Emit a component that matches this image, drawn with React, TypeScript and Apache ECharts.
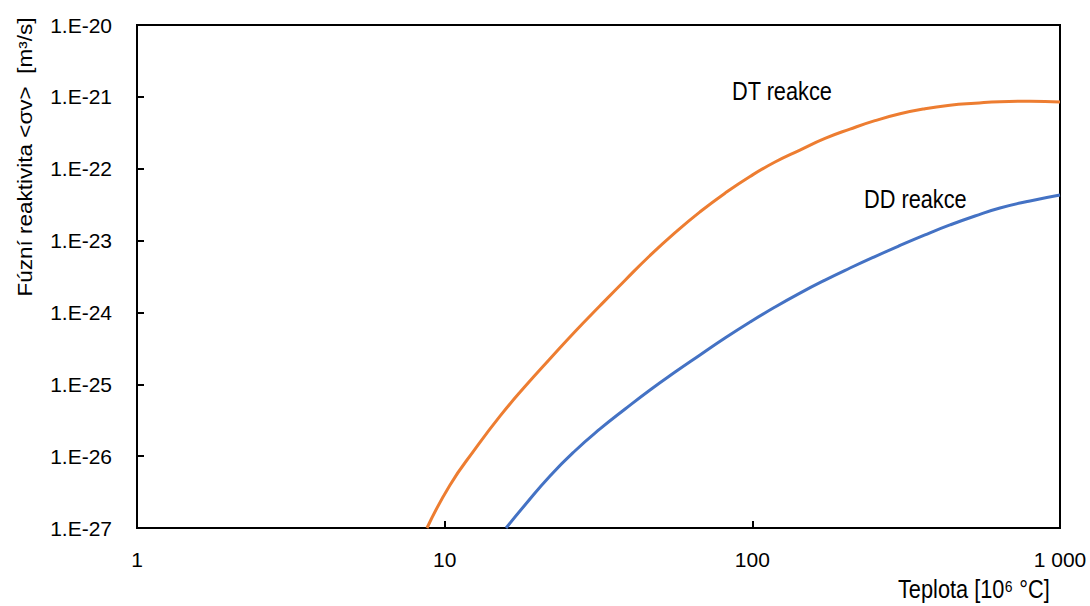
import React, { useEffect, useRef } from "react";
import * as echarts from "echarts";

// Temperature [10^6 °C] and reactivity <σv> [m^3/s]
const tempDT = [8.76, 10.41, 12.55, 15.13, 18.24, 22.0, 26.5, 31.98, 38.6, 46.5, 56.1, 67.6, 81.5, 98.3, 118.5, 142.8, 172.3, 207.7, 250.4, 302, 364, 438.9, 529.3, 638, 798.8, 1000];
const sigmaDT = [1.0e-27, 3.97e-27, 1.25e-26, 3.6e-26, 9.3e-26, 2.27e-25, 5.4e-25, 1.24e-24, 2.81e-24, 6.2e-24, 1.29e-23, 2.51e-23, 4.57e-23, 7.8e-23, 1.24e-22, 1.82e-22, 2.64e-22, 3.56e-22, 4.66e-22, 5.81e-22, 6.83e-22, 7.63e-22, 8.15e-22, 8.58e-22, 8.7e-22, 8.5e-22];

const tempDD = [15.83, 18.24, 22.0, 26.5, 31.98, 38.6, 46.5, 56.1, 67.6, 81.5, 98.3, 118.5, 142.8, 172.3, 207.7, 250.4, 302, 364, 438.9, 529.3, 638, 798.8, 1000];
const sigmaDD = [1.0e-27, 2.09e-27, 5.3e-27, 1.18e-26, 2.39e-26, 4.53e-26, 8.34e-26, 1.48e-25, 2.56e-25, 4.41e-25, 7.36e-25, 1.19e-24, 1.86e-24, 2.82e-24, 4.15e-24, 6.0e-24, 8.55e-24, 1.2e-23, 1.65e-23, 2.2e-23, 2.84e-23, 3.56e-23, 4.31e-23];

const seriesNames = ["DT reakce", "DD reakce"];
const yExponentMin = -27;
const yExponentMax = -20;
const xTickLabels: Record<number, string> = { 1: "1", 10: "10", 100: "100", 1000: "1 000" };
const xAxisTitle = "Teplota [10⁶ °C]";
const yAxisTitle = "Fúzní reaktivita <σv>  [m³/s]";

const FONT = "'Liberation Sans', Arial, sans-serif";

export default function App() {
  const ref = useRef<HTMLDivElement>(null);
  useEffect(() => {
    if (!ref.current) return;
    const chart = echarts.init(ref.current, undefined, { renderer: "svg" });
    const toPts = (t: number[], s: number[]) => t.map((v, i) => [v, Math.log10(s[i])]);
    chart.setOption({
      animation: false,
      backgroundColor: "#fff",
      grid: {
        left: 137,
        right: 30,
        top: 25,
        bottom: 78,
        show: true,
        borderColor: "#000",
        borderWidth: 2,
        backgroundColor: "transparent",
      },
      xAxis: {
        type: "log",
        logBase: 10,
        min: 1,
        max: 1000,
        axisLine: { show: true, lineStyle: { color: "#000", width: 2 } },
        axisTick: { show: true, inside: true, length: 7, lineStyle: { color: "#000", width: 2 } },
        minorTick: { show: false },
        splitLine: { show: false },
        axisLabel: {
          margin: 21,
          fontSize: 21,
          color: "#000",
          fontFamily: FONT,
          formatter: (v: number) => xTickLabels[Math.round(v)] ?? String(v),
        },
      },
      yAxis: {
        type: "value",
        min: yExponentMin,
        max: yExponentMax,
        interval: 1,
        axisLine: { show: true, lineStyle: { color: "#000", width: 2 } },
        axisTick: { show: true, inside: true, length: 7, lineStyle: { color: "#000", width: 2 } },
        splitLine: { show: false },
        axisLabel: {
          margin: 25,
          fontSize: 21,
          color: "#000",
          fontFamily: FONT,
          formatter: (v: number) => "1.E" + Math.round(v),
        },
      },
      series: [
        {
          name: seriesNames[0],
          type: "line",
          data: toPts(tempDT, sigmaDT),
          smooth: 0.5,
          symbol: "none",
          lineStyle: { color: "#ED7D31", width: 3 },
          z: 3,
        },
        {
          name: seriesNames[1],
          type: "line",
          data: toPts(tempDD, sigmaDD),
          smooth: 0.5,
          symbol: "none",
          lineStyle: { color: "#4472C4", width: 3 },
          z: 3,
        },
      ],
      graphic: [
        {
          type: "text",
          x: 732,
          y: 91,
          scaleX: 0.87,
          style: { text: seriesNames[0], font: `25px ${FONT}`, fill: "#000", align: "left", verticalAlign: "middle" },
        },
        {
          type: "text",
          x: 864,
          y: 199,
          scaleX: 0.87,
          style: { text: seriesNames[1], font: `25px ${FONT}`, fill: "#000", align: "left", verticalAlign: "middle" },
        },
        {
          type: "text",
          x: 898,
          y: 589,
          scaleX: 0.87,
          style: { text: xAxisTitle, font: `25px ${FONT}`, fill: "#000", align: "left", verticalAlign: "middle" },
        },
        {
          type: "text",
          x: 25,
          y: 157,
          rotation: Math.PI / 2,
          scaleY: 0.87,
          style: { text: yAxisTitle, font: `22.5px ${FONT}`, fill: "#000", align: "center", verticalAlign: "middle" },
        },
      ],
    });
    return () => chart.dispose();
  }, []);
  return (
    <div
      ref={ref}
      style={{ position: "absolute", left: 0, top: 0, width: 1090, height: 606, background: "#fff" }}
    />
  );
}
